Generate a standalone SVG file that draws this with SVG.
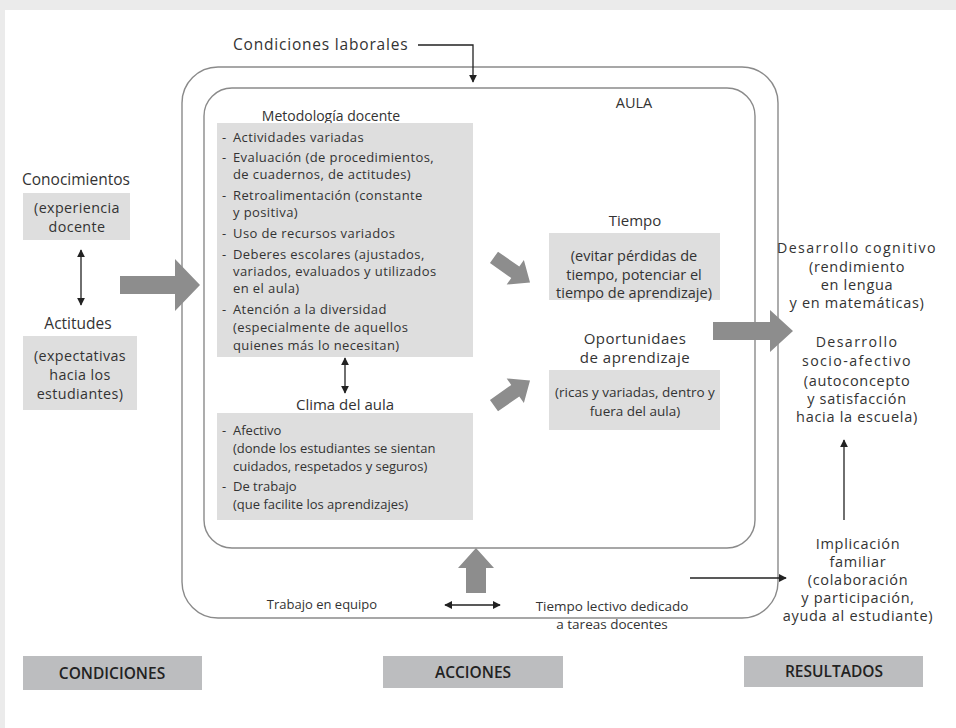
<svg xmlns="http://www.w3.org/2000/svg" width="956" height="728" viewBox="0 0 956 728">
<defs>
<style>
text{font-family:"Open Sans","Noto Sans","DejaVu Sans",sans-serif;font-size:13.5px;fill:#333;}
.c{text-anchor:middle;}
.lab{font-size:15.5px;font-weight:600;text-anchor:middle;fill:#222;}
.box{fill:#dedede;}
.lbox{fill:#bcbdbf;}
.frame{fill:none;stroke:#8a8a8a;stroke-width:1.4;}
.ln{fill:none;stroke:#222;stroke-width:1.3;}
.big{fill:#8d8d8d;}
.met{font-size:13px;letter-spacing:0.4px;}
.cli{font-size:13px;}
.left{font-size:14.3px;letter-spacing:0.4px;}
.lefth{font-size:15.5px;}
.tie{font-size:14.5px;}
.tieh{font-size:15px;}
.opo{font-size:15px;letter-spacing:0.5px;}
.rh{font-size:14.2px;letter-spacing:1.4px;}
.rb{font-size:14.5px;letter-spacing:0.7px;}
</style>
<marker id="ah" viewBox="0 0 10 10" refX="9" refY="5" markerWidth="8" markerHeight="8" orient="auto-start-reverse" markerUnits="userSpaceOnUse">
<path d="M0,0 L10,5 L0,10 z" fill="#222"/>
</marker>
</defs>
<rect x="0" y="0" width="956" height="728" fill="#ebebeb"/>
<rect x="5" y="10" width="951" height="718" fill="#fff"/>

<g id="frames">
<rect class="frame" x="182" y="67" width="596" height="551" rx="36"/>
<rect class="frame" x="204" y="88" width="551" height="460" rx="28"/>
<text x="634" y="108" class="c" style="font-size:14.5px">AULA</text>
</g>

<g id="condiciones-laborales">
<text x="233" y="50" style="font-size:15.5px;letter-spacing:0.8px">Condiciones laborales</text>
</g>

<g id="conocimientos">
<text x="76" y="185" class="c lefth">Conocimientos</text>
<rect class="box" x="23" y="193" width="107" height="47"/>
<text x="77" y="213" class="c left">(experiencia</text>
<text x="77" y="232" class="c left">docente</text>
</g>

<g id="actitudes">
<text x="78" y="329" class="c lefth">Actitudes</text>
<rect class="box" x="23" y="336" width="114" height="74"/>
<text x="80" y="361" class="c left">(expectativas</text>
<text x="80" y="380" class="c left">hacia los</text>
<text x="80" y="399" class="c left">estudiantes)</text>
</g>

<g id="metodologia">
<text x="331" y="121" class="c" style="font-size:14px">Metodología docente</text>
<rect class="box" x="217" y="123" width="256" height="234"/>
<text x="222" y="142" class="met">-</text><text x="233" y="142" class="met">Actividades variadas</text>
<text x="222" y="162" class="met">-</text><text x="233" y="162" class="met">Evaluación (de procedimientos,</text>
<text x="233" y="179" class="met">de cuadernos, de actitudes)</text>
<text x="222" y="200" class="met">-</text><text x="233" y="200" class="met">Retroalimentación (constante</text>
<text x="233" y="217" class="met">y positiva)</text>
<text x="222" y="238" class="met">-</text><text x="233" y="238" class="met">Uso de recursos variados</text>
<text x="222" y="259" class="met">-</text><text x="233" y="259" class="met">Deberes escolares (ajustados,</text>
<text x="233" y="276" class="met">variados, evaluados y utilizados</text>
<text x="233" y="293" class="met">en el aula)</text>
<text x="222" y="314" class="met">-</text><text x="233" y="314" class="met">Atención a la diversidad</text>
<text x="233" y="332" class="met">(especialmente de aquellos</text>
<text x="233" y="350" class="met">quienes más lo necesitan)</text>
</g>

<g id="clima">
<text x="345" y="410" class="c" style="font-size:15px">Clima del aula</text>
<rect class="box" x="217" y="413" width="256" height="107"/>
<text x="222" y="435" class="cli">-</text><text x="233" y="435" class="cli">Afectivo</text>
<text x="233" y="453" class="cli">(donde los estudiantes se sientan</text>
<text x="233" y="471" class="cli">cuidados, respetados y seguros)</text>
<text x="222" y="491" class="cli">-</text><text x="233" y="491" class="cli">De trabajo</text>
<text x="233" y="509" class="cli">(que facilite los aprendizajes)</text>
</g>

<g id="tiempo">
<text x="635" y="226" class="c tieh">Tiempo</text>
<rect class="box" x="549" y="233" width="171" height="67"/>
<text x="634" y="261" class="c tie">(evitar pérdidas de</text>
<text x="634" y="280" class="c tie">tiempo, potenciar el</text>
<text x="634" y="298" class="c tie">tiempo de aprendizaje)</text>
</g>

<g id="oportunidades">
<text x="635" y="344" class="c opo">Oportunidaes</text>
<text x="635" y="363" class="c opo">de aprendizaje</text>
<rect class="box" x="549" y="370" width="171" height="60"/>
<text x="635" y="397" class="c">(ricas y variadas, dentro y</text>
<text x="635" y="416" class="c">fuera del aula)</text>
</g>

<g id="resultados-texto">
<text x="857" y="253" class="c rh">Desarrollo cognitivo</text>
<text x="857" y="272" class="c rb">(rendimiento</text>
<text x="857" y="290" class="c rb">en lengua</text>
<text x="857" y="308" class="c rb">y en matemáticas)</text>
<text x="857" y="347" class="c rh">Desarrollo</text>
<text x="857" y="366" class="c rh">socio-afectivo</text>
<text x="857" y="386" class="c rb">(autoconcepto</text>
<text x="857" y="404" class="c rb">y satisfacción</text>
<text x="857" y="422" class="c rb">hacia la escuela)</text>
</g>

<g id="implicacion">
<text x="858" y="549" class="c rb">Implicación</text>
<text x="858" y="567" class="c rb">familiar</text>
<text x="858" y="585" class="c rb">(colaboración</text>
<text x="858" y="603" class="c rb">y participación,</text>
<text x="858" y="621" class="c rb">ayuda al estudiante)</text>
</g>

<g id="trabajo-equipo">
<text x="322" y="609" class="c" style="font-size:13px">Trabajo en equipo</text>
</g>

<g id="tiempo-lectivo">
<text x="612" y="611" class="c">Tiempo lectivo dedicado</text>
<text x="612" y="629" class="c">a tareas docentes</text>
</g>

<g id="label-condiciones">
<rect class="lbox" x="23" y="656" width="179" height="34"/>
<text x="112" y="679" class="lab">CONDICIONES</text>
</g>
<g id="label-acciones">
<rect class="lbox" x="383" y="656" width="180" height="32"/>
<text x="473" y="678" class="lab">ACCIONES</text>
</g>
<g id="label-resultados">
<rect class="lbox" x="744" y="656" width="179" height="31"/>
<text x="834" y="677" class="lab">RESULTADOS</text>
</g>

<g id="connectors">
<polyline class="ln" points="418,45 473,45 473,82" marker-end="url(#ah)"/>
<line class="ln" x1="81" y1="250" x2="81" y2="305" marker-start="url(#ah)" marker-end="url(#ah)"/>
<line class="ln" x1="345" y1="358" x2="345" y2="393" marker-start="url(#ah)" marker-end="url(#ah)"/>
<line class="ln" x1="445" y1="605" x2="500" y2="605" marker-start="url(#ah)" marker-end="url(#ah)"/>
<line class="ln" x1="690" y1="578" x2="786" y2="578" marker-end="url(#ah)"/>
<line class="ln" x1="844" y1="520" x2="844" y2="440" marker-end="url(#ah)"/>
<path class="big" d="M120,276 L175,276 L175,259 L200,285 L175,311 L175,294 L120,294 z"/>
<path class="big" d="M713,322 L770,322 L770,310 L793,331 L770,352 L770,340 L713,340 z"/>
<path class="big" d="M466,593 L466,568 L458,568 L476,548 L494,568 L486,568 L486,593 z"/>
<path class="big" transform="translate(512,270) rotate(35)" d="M-22,-7 L4,-7 L4,-15 L22,0 L4,15 L4,7 L-22,7 z"/>
<path class="big" transform="translate(512,393) rotate(-35)" d="M-22,-7 L4,-7 L4,-15 L22,0 L4,15 L4,7 L-22,7 z"/>
</g>
</svg>
